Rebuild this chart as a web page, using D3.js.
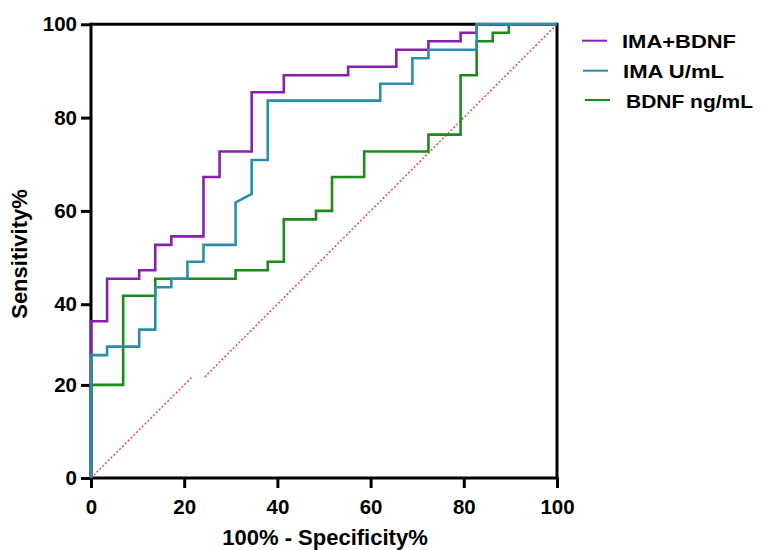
<!DOCTYPE html>
<html>
<head>
<meta charset="utf-8">
<script src="https://cdn.jsdelivr.net/npm/d3@7"></script>
<style>
  html, body { margin: 0; padding: 0; background: #fff; }
  svg text { font-family: "Liberation Sans", Arial, sans-serif; font-weight: bold; fill: #000; }
</style>
</head>
<body>
<svg id="chart" width="762" height="550"></svg>
<script>
// ---- data (percent) ----
const seriesNames = ["IMA+BDNF", "IMA U/mL", "BDNF ng/mL"];
const seriesColors = ["#8a1fae", "#2a8eab", "#1b8c1b"];

const imaBdnfX = [0,0,3.45,3.45,10.34,10.34,13.79,13.79,17.24,17.24,24.14,24.14,27.59,27.59,34.48,34.48,41.38,41.38,55.17,55.17,65.52,65.52,72.41,72.41,79.31,79.31,82.76,82.76,100];
const imaBdnfY = [0,36.36,36.36,45.45,45.45,47.27,47.27,52.73,52.73,54.55,54.55,67.27,67.27,72.73,72.73,85.45,85.45,89.09,89.09,90.91,90.91,94.55,94.55,96.36,96.36,98.18,98.18,100,100];

const imaX = [0,0,3.45,3.45,10.34,10.34,13.79,13.79,17.24,17.24,20.69,20.69,24.14,24.14,31.03,31.03,34.48,34.48,37.93,37.93,62.07,62.07,68.97,68.97,72.41,72.41,82.76,82.76,100];
const imaY = [0,29.09,29.09,30.91,30.91,34.55,34.55,43.64,43.64,45.45,45.45,49.09,49.09,52.73,52.73,61.82,63.64,70.91,70.91,83.64,83.64,87.27,87.27,92.73,92.73,94.55,94.55,100,100];

const bdnfX = [0,0,6.90,6.90,13.79,13.79,31.03,31.03,37.93,37.93,41.38,41.38,48.28,48.28,51.72,51.72,58.62,58.62,72.41,72.41,79.31,79.31,82.76,82.76,86.21,86.21,89.66,89.66,100];
const bdnfY = [0,20,20,41.82,41.82,45.45,45.45,47.27,47.27,49.09,49.09,58.18,58.18,60,60,67.27,67.27,72.73,72.73,76.36,76.36,89.09,89.09,96.36,96.36,98.18,98.18,100,100];

// reference diagonal (the source image has a strip missing around 22-24%)
const diagX = [0, 21.7, null, 24.4, 100];
const diagY = [0, 21.7, null, 24.4, 100];

const xTicks = [0, 20, 40, 60, 80, 100];
const yTicks = [0, 20, 40, 60, 80, 100];

// ---- layout ----
const svg = d3.select("#chart");
const x = d3.scaleLinear().domain([0, 100]).range([91, 557]);
// piecewise scale reproducing the missing strip of the source picture
const y = d3.scaleLinear().domain([0, 21.7, 24.4, 100]).range([478, 377, 377, 24.3]);

// frame (top and right)
svg.append("line").attr("x1", x(0)).attr("x2", x(100)).attr("y1", y(100)).attr("y2", y(100))
  .attr("stroke", "#000").attr("stroke-width", 3);
svg.append("line").attr("x1", x(100)).attr("x2", x(100)).attr("y1", y(100) - 1.5).attr("y2", y(0) + 1.5)
  .attr("stroke", "#000").attr("stroke-width", 3);

// axes
const xAxis = svg.append("g").attr("transform", `translate(0,${y(0)})`)
  .call(d3.axisBottom(x).tickValues(xTicks).tickSize(10).tickSizeOuter(0).tickPadding(11));
const yAxis = svg.append("g").attr("transform", `translate(${x(0)},0)`)
  .call(d3.axisLeft(y).tickValues(yTicks).tickSize(10).tickSizeOuter(0).tickPadding(4));
[xAxis, yAxis].forEach(a => {
  a.select(".domain").attr("stroke", "#000").attr("stroke-width", 3);
  a.selectAll(".tick line").attr("stroke", "#000").attr("stroke-width", 3);
  a.selectAll(".tick text").style("font-size", "20.5px").style("font-family", '"Liberation Sans", Arial, sans-serif').style("font-weight", "bold").attr("fill", "#000");
});
yAxis.select(".domain").attr("d", `M0,${y(0) + 1.5}V${y(100) - 1.5}`);
xAxis.select(".domain").attr("d", `M${x(0) - 1.5},0H${x(100) + 1.5}`);

// diagonal
const diagData = diagX.map((d, i) => ({ x: d, y: diagY[i] }));
svg.append("path")
  .datum(diagData)
  .attr("fill", "none")
  .attr("stroke", "#ff3a3a")
  .attr("stroke-width", 1.4)
  .attr("stroke-dasharray", "2,2")
  .attr("d", d3.line().defined(d => d.x !== null).x(d => x(d.x)).y(d => y(d.y)));

// curves (draw order: green, purple, teal on top)
const curves = [
  { name: seriesNames[2], color: seriesColors[2], xs: bdnfX, ys: bdnfY },
  { name: seriesNames[0], color: seriesColors[0], xs: imaBdnfX, ys: imaBdnfY },
  { name: seriesNames[1], color: seriesColors[1], xs: imaX, ys: imaY }
];
const line = d3.line().x(d => x(d[0])).y(d => y(d[1]));
curves.forEach(c => {
  svg.append("path")
    .datum(c.xs.map((v, i) => [v, c.ys[i]]))
    .attr("fill", "none")
    .attr("stroke", c.color)
    .attr("stroke-width", 2.6)
    .attr("stroke-linejoin", "miter")
    .attr("d", line);
});

// legend
const legendRows = [
  { name: seriesNames[0], color: seriesColors[0], lx: 582, ly: 40.7, tx: 622, ty: 47.7, w: 114 },
  { name: seriesNames[1], color: seriesColors[1], lx: 583, ly: 70.7, tx: 623, ty: 77.5, w: 101 },
  { name: seriesNames[2], color: seriesColors[2], lx: 585, ly: 100, tx: 626, ty: 107.5, w: 127 }
];
legendRows.forEach(r => {
  svg.append("line").attr("x1", r.lx).attr("x2", r.lx + 25).attr("y1", r.ly).attr("y2", r.ly)
    .attr("stroke", r.color).attr("stroke-width", 2);
  svg.append("text").attr("x", r.tx).attr("y", r.ty)
    .attr("textLength", r.w).attr("lengthAdjust", "spacingAndGlyphs")
    .style("font-size", "18px").text(r.name);
});

// axis titles
svg.append("text")
  .attr("transform", "translate(27,254) rotate(-90)")
  .attr("text-anchor", "middle")
  .style("font-size", "22px")
  .text("Sensitivity%");
svg.append("text")
  .attr("x", 325).attr("y", 545)
  .attr("text-anchor", "middle")
  .style("font-size", "22px")
  .text("100% - Specificity%");
</script>
</body>
</html>
